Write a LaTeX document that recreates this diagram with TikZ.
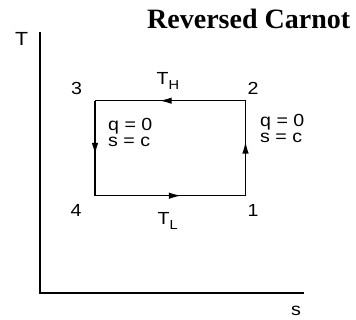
\documentclass[tikz,border=0pt]{standalone}
\usepackage{fontspec}
\setmainfont{Liberation Sans}[FakeStretch=1.12]
\newfontfamily\titlefont{Liberation Serif}
\usetikzlibrary{arrows.meta,decorations.markings}

\begin{document}
\begin{tikzpicture}[x=1pt, y=-1pt,
    every node/.style={font=\fontsize{17.5}{16}\selectfont, inner sep=0pt},
    midarrow/.style={postaction={decorate}, decoration={markings,
      mark=at position 0.57 with {\arrow{Latex[length=12pt,width=6.5pt]}}}}]
  \useasboundingbox (0,0) rectangle (356,320);
  \node[anchor=base west, font=\titlefont\fontsize{28}{30}\selectfont\bfseries]
    (title) at (147,29) {Reversed Carnot};
  % axes
  \coordinate (ytop) at (40,32);
  \coordinate (org) at (40,293);
  \coordinate (xend) at (304,293);
  \draw[line width=1.1pt] (ytop) -- (org) -- (xend);
  \node[anchor=base, font=\fontsize{19}{19}\selectfont] (tlab) at (21.5,46) {T};
  \node[anchor=base] (slab) at (296,316) {s};
  % cycle
  \coordinate (c1) at (245.5,195.7);
  \coordinate (c2) at (245.5,100.7);
  \coordinate (c3) at (95,100.7);
  \coordinate (c4) at (95,195.7);
  \draw[line width=1.1pt, midarrow] (c2) -- (c3);
  \draw[line width=1.1pt, midarrow] (c3) -- (c4);
  \draw[line width=1.1pt, midarrow] (c4) -- (c1);
  \draw[line width=1.1pt, midarrow] (c1) -- (c2);
  \node[anchor=base] (n1) at (253,217) {1};
  \node[anchor=base] (n2) at (253,95) {2};
  \node[anchor=base] (n3) at (76.5,95) {3};
  \node[anchor=base] (n4) at (76,217) {4};
  \node[anchor=base west] (th) at (156.5,85)
    {T\raisebox{-5pt}{\fontsize{13}{13}\selectfont H}};
  \node[anchor=base west] (tl) at (157.5,225)
    {T\raisebox{-5pt}{\fontsize{13}{13}\selectfont L}};
  \node[anchor=base west, align=left] (adl) at (108,147) {q = 0\\s = c};
  \node[anchor=base west, align=left] (adr) at (260,143) {q = 0\\s = c};
\end{tikzpicture}
\end{document}
